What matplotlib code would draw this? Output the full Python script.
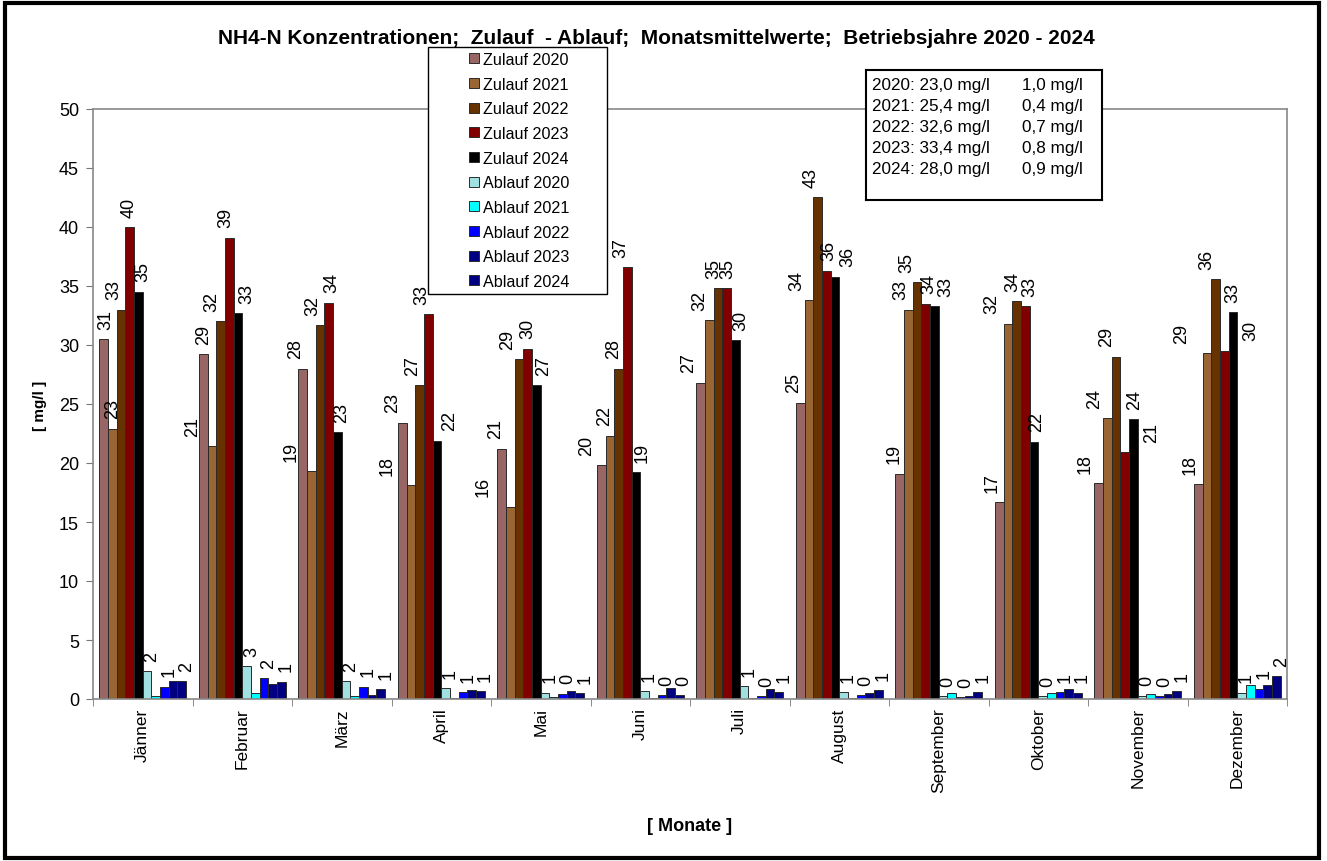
import numpy as np
import matplotlib
matplotlib.use("Agg")
import matplotlib.pyplot as plt
from matplotlib.patches import Rectangle

plt.rcParams['font.family'] = ['Liberation Sans', 'DejaVu Sans']

months = ["Jänner", "Februar", "März", "April", "Mai", "Juni", "Juli",
          "August", "September", "Oktober", "November", "Dezember"]

zulauf_2020 = [30.5, 29.2, 28.0, 23.4, 21.2, 19.8, 26.8, 25.1, 19.1, 16.7, 18.3, 18.2]
zulauf_2021 = [22.9, 21.4, 19.3, 18.1, 16.3, 22.3, 32.1, 33.8, 33.0, 31.8, 23.8, 29.3]
zulauf_2022 = [33.0, 32.0, 31.7, 26.6, 28.8, 28.0, 34.8, 42.5, 35.3, 33.7, 29.0, 35.6]
zulauf_2023 = [40.0, 39.1, 33.6, 32.6, 29.7, 36.6, 34.8, 36.3, 33.5, 33.3, 20.9, 29.5]
zulauf_2024 = [34.5, 32.7, 22.6, 21.9, 26.6, 19.2, 30.4, 35.8, 33.3, 21.8, 23.7, 32.8]

ablauf_2020 = [2.34, 2.77, 1.50, 0.90, 0.55, 0.65, 1.10, 0.60, 0.23, 0.23, 0.28, 0.55]
ablauf_2021 = [0.25, 0.51, 0.25, 0.08, 0.14, 0.06, 0.08, 0.08, 0.50, 0.50, 0.40, 1.16]
ablauf_2022 = [1.05, 1.78, 1.05, 0.56, 0.45, 0.30, 0.25, 0.30, 0.14, 0.60, 0.25, 0.88]
ablauf_2023 = [1.53, 1.27, 0.37, 0.73, 0.65, 0.90, 0.82, 0.50, 0.25, 0.82, 0.45, 1.16]
ablauf_2024 = [1.53, 1.45, 0.82, 0.65, 0.50, 0.30, 0.60, 0.76, 0.60, 0.54, 0.68, 1.92]

series_names = ["Zulauf 2020", "Zulauf 2021", "Zulauf 2022", "Zulauf 2023", "Zulauf 2024",
                "Ablauf 2020", "Ablauf 2021", "Ablauf 2022", "Ablauf 2023", "Ablauf 2024"]
series_values = [zulauf_2020, zulauf_2021, zulauf_2022, zulauf_2023, zulauf_2024,
                 ablauf_2020, ablauf_2021, ablauf_2022, ablauf_2023, ablauf_2024]
colors = ["#996666", "#996633", "#663300", "#800000", "#000000",
          "#A0E0E0", "#00FFFF", "#0000FF", "#000080", "#000080"]
# which series get value labels
labelled = [True, True, True, True, True, True, False, True, False, True]

mean_lines = ["2020: 23,0 mg/l", "2021: 25,4 mg/l", "2022: 32,6 mg/l",
              "2023: 33,4 mg/l", "2024: 28,0 mg/l"]
mean_ablauf = ["1,0 mg/l", "0,4 mg/l", "0,7 mg/l", "0,8 mg/l", "0,9 mg/l"]

# sideways shift (px) of the Zulauf value labels, like Excel placed them
zu_shift = [[2.5, 0, -7, -1, 4],
            [0, -19, -9, -3, 9],
            [-7.5, -20, -7, 3.5, 4],
            [-10, -24, -6.5, -6.5, 13],
            [-6, -27, -11, 0, 7],
            [-15, -5, -5, -6, 6],
            [-12, -10, -4.5, 1.5, 5],
            [-7, -12, -6, 2.5, 13],
            [-6, -8, -10, 3.5, 11],
            [-7, -16, -4, 4.5, 3],
            [-14, -13, -9, 27, 1.5],
            [-8, -25, -9, 27, 0]]

W, H = 1327, 862
fig = plt.figure(figsize=(W / 100, H / 100), dpi=100)
ax = fig.add_axes([93 / W, 1 - 700 / H, (1287 - 93) / W, (700 - 110) / H])

x = np.arange(len(months))
w = 0.087
n = len(series_values)
handles = []
for i, (name, vals, c) in enumerate(zip(series_names, series_values, colors)):
    pos = x - n * w / 2 + w / 2 + i * w
    bars = ax.bar(pos, vals, width=w, color=c, edgecolor="#2a2a2a", linewidth=0.7, label=name)
    handles.append(bars)
    if labelled[i]:
        for m, (p, v) in enumerate(zip(pos, vals)):
            txt = "%d" % int(np.floor(v + 0.5))
            dx = zu_shift[m][i] if i < 5 else 5
            ax.annotate(txt, (p, v), xytext=(dx * 0.72, 7.5), textcoords="offset points",
                        rotation=90, ha="center", va="bottom", fontsize=13)

ax.set_xlim(-0.5, len(months) - 0.5)
ax.set_ylim(0, 50)
ax.set_yticks(np.arange(0, 51, 5))
ax.set_xticks(x)
ax.set_xticklabels(months, rotation=90, fontsize=12.5)
ax.set_xticks(np.arange(-0.5, len(months), 1), minor=True)
ax.tick_params(axis="x", which="major", length=0, pad=6)
ax.tick_params(axis="x", which="minor", length=5, direction="out", color="#777777")
ax.tick_params(axis="y", length=5, direction="out", color="#777777", labelsize=13, pad=5)
for s in ax.spines.values():
    s.set_color("#888888")
    s.set_linewidth(1.2)

fig.text(40 / W, 1 - 406 / H, "[ mg/l ]", rotation=90, ha="center", va="center",
         fontsize=11, fontweight="bold")
fig.text(690 / W, 1 - 827 / H, "[ Monate ]", ha="center", va="center",
         fontsize=13, fontweight="bold")
fig.text(656 / W, 1 - 38 / H,
         "NH4-N Konzentrationen;  Zulauf  - Ablauf;  Monatsmittelwerte;  Betriebsjahre 2020 - 2024",
         ha="center", va="center", fontsize=15, fontweight="bold")

# legend box
fig.patches.append(Rectangle((428 / W, 1 - 295 / H), (607 - 428) / W, (295 - 48) / H,
                             transform=fig.transFigure, facecolor="white",
                             edgecolor="black", linewidth=1.0, zorder=4))
leg = fig.legend(handles, series_names, loc="upper center",
                 bbox_to_anchor=(519 / W, 1 - 53 / H), frameon=False,
                 fontsize=11.6, handlelength=0.6, handleheight=0.6, handletextpad=0.25,
                 labelspacing=0.6, borderpad=0, borderaxespad=0)
leg.set_zorder(5)

# box with yearly mean values
box_ax = fig.add_axes([866 / W, 1 - 201 / H, (1102 - 866) / W, (201 - 71) / H])
box_ax.set_xticks([])
box_ax.set_yticks([])
for s in box_ax.spines.values():
    s.set_color("black")
    s.set_linewidth(1.5)
for k, (a, b) in enumerate(zip(mean_lines, mean_ablauf)):
    yy = 0.885 - k * 0.161
    box_ax.text(0.025, yy, a, fontsize=12.3, va="center", ha="left", transform=box_ax.transAxes)
    box_ax.text(0.919, yy, b, fontsize=12.3, va="center", ha="right", transform=box_ax.transAxes)

fig.patches.append(Rectangle((5 / W, 3 / H), 1314 / W, 855 / H, transform=fig.transFigure,
                             fill=False, edgecolor="black", linewidth=3, zorder=6))

fig.savefig("out.png", dpi=100)
